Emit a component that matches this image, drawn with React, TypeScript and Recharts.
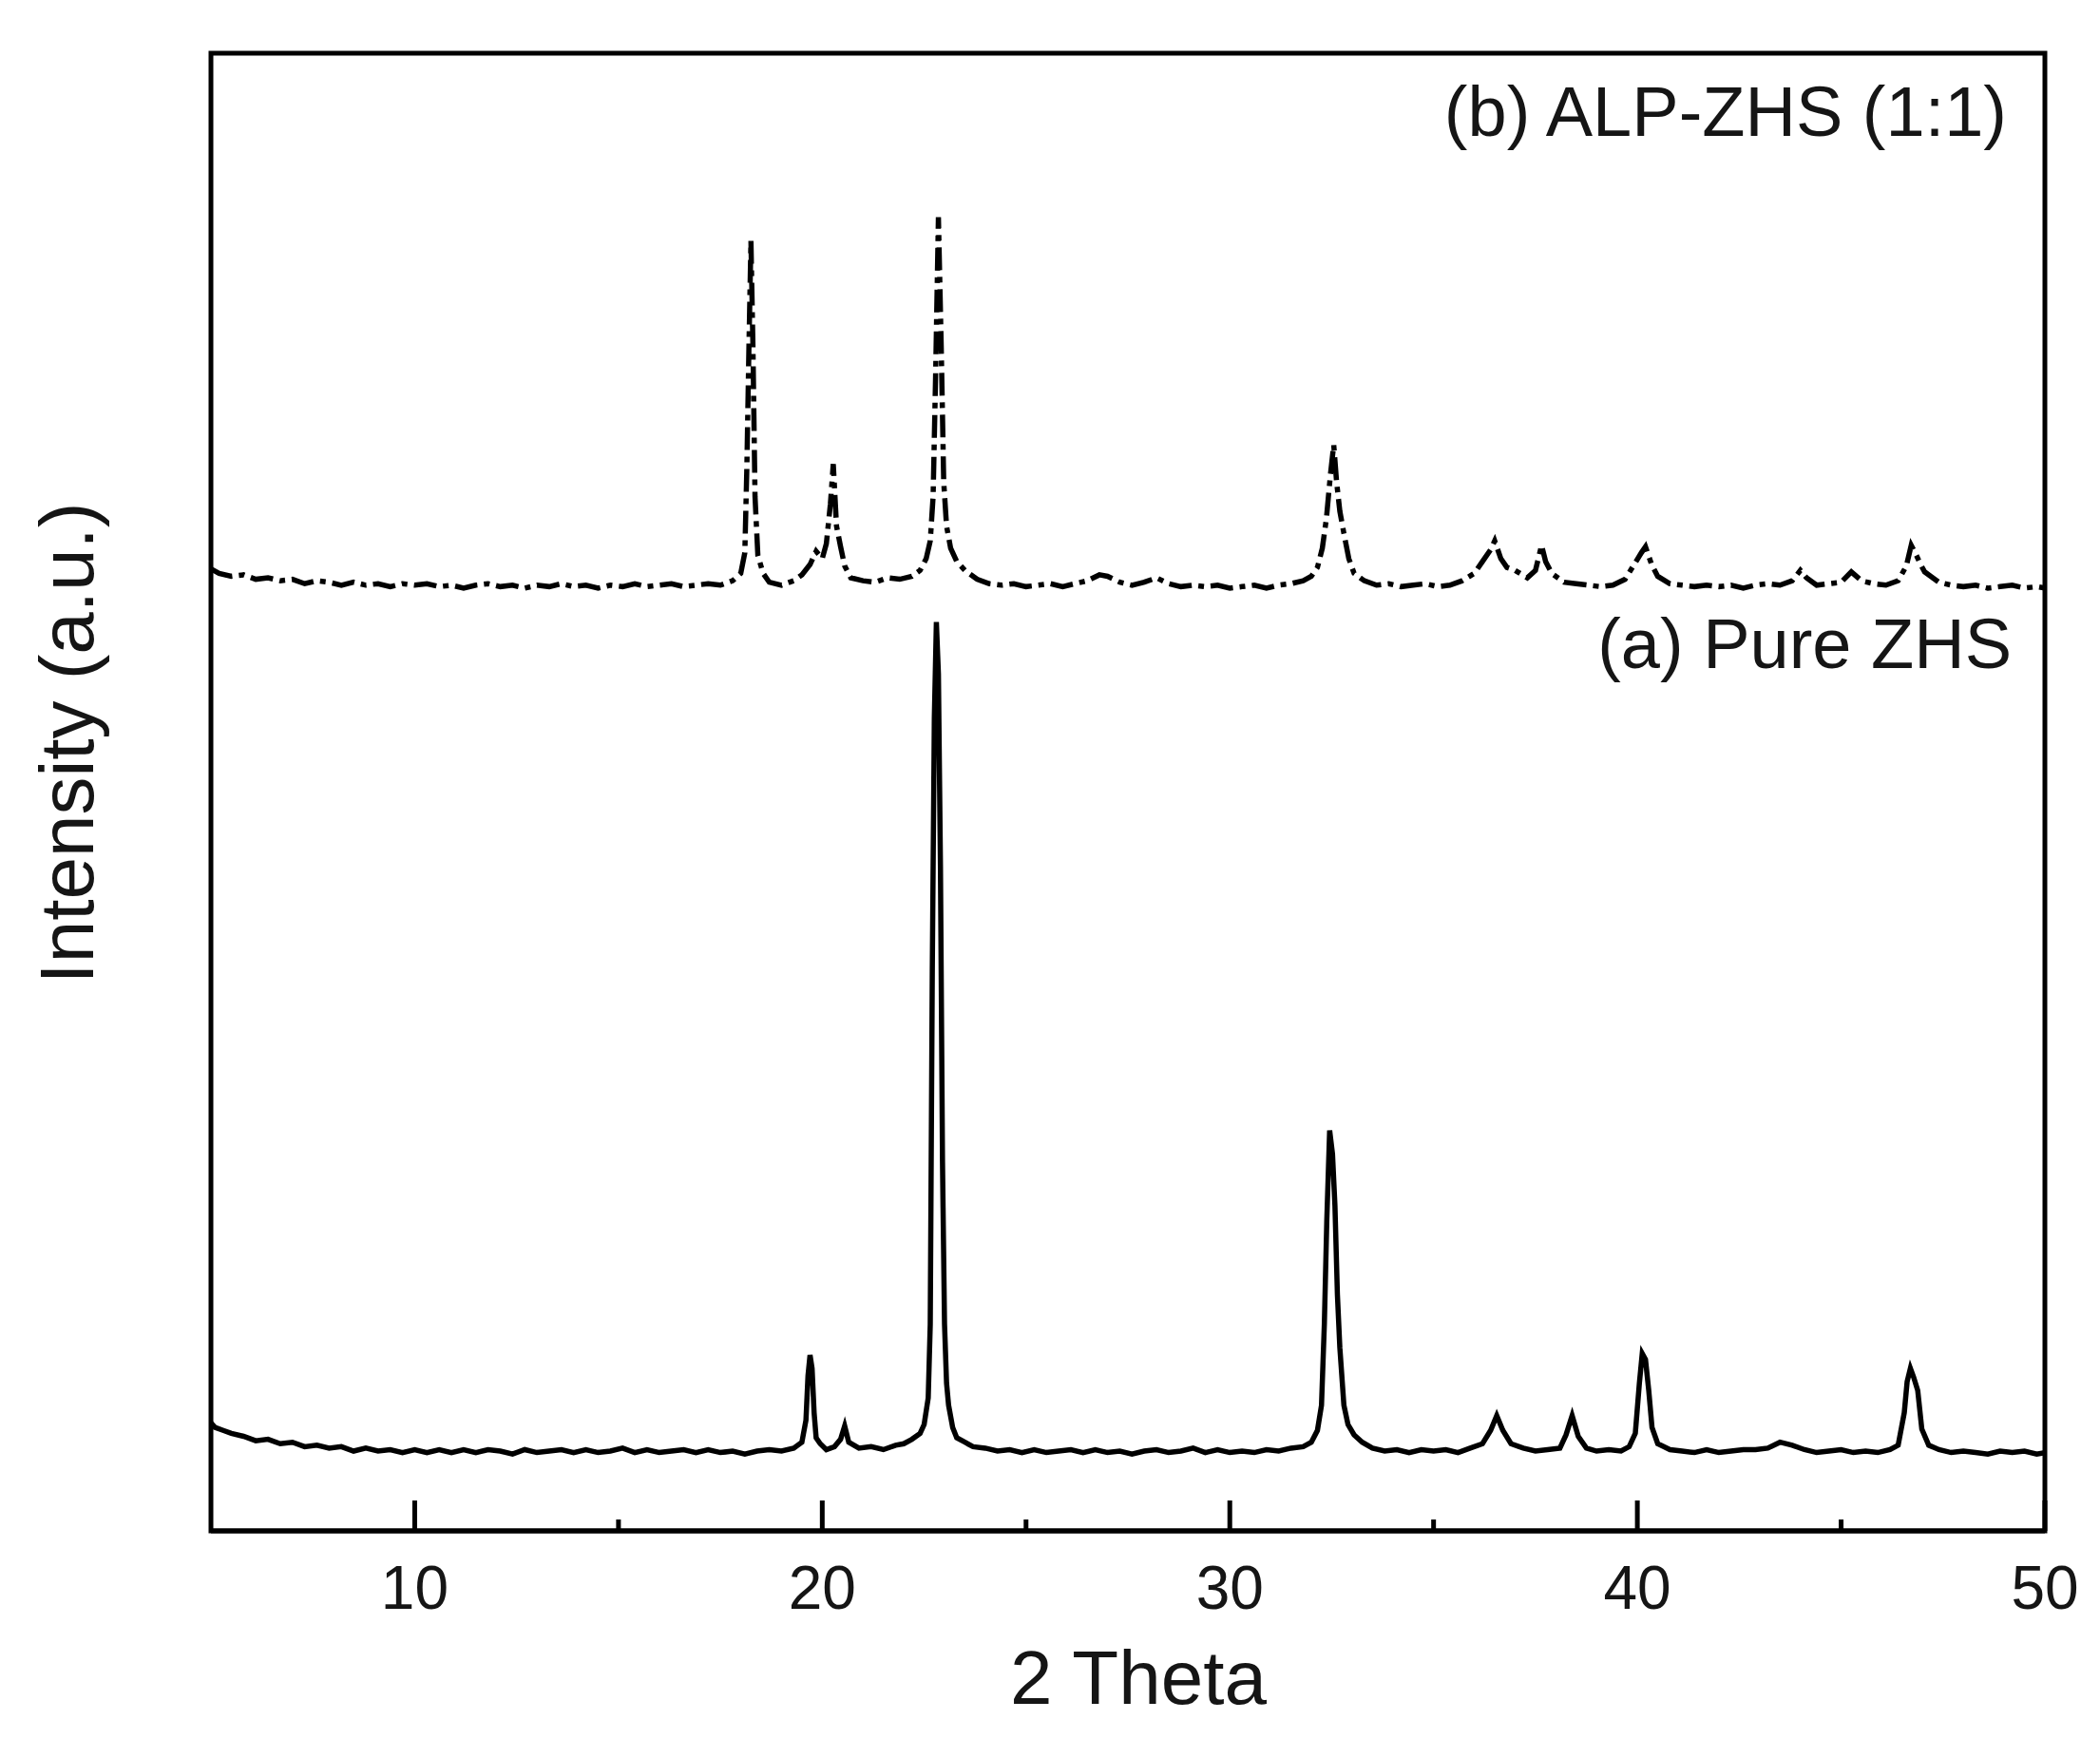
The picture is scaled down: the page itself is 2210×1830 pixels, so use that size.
import { LineChart, Line, XAxis, YAxis, ReferenceArea } from 'recharts';

// 2 theta (deg), intensity on a 0-100 arbitrary scale
const pureZhs: [number, number][] = [
  [5.0, 7.3], [5.1, 7.0], [5.3, 6.8], [5.5, 6.6], [5.8, 6.4], [6.1, 6.1], [6.4, 6.2], [6.7, 5.9],
  [7.0, 6.0], [7.3, 5.7], [7.6, 5.8], [7.9, 5.6], [8.2, 5.7], [8.5, 5.4], [8.8, 5.6], [9.1, 5.4],
  [9.4, 5.5], [9.7, 5.3], [10.0, 5.5], [10.3, 5.3], [10.6, 5.5], [10.9, 5.3], [11.2, 5.5], [11.5, 5.3],
  [11.8, 5.5], [12.1, 5.4], [12.4, 5.2], [12.7, 5.5], [13.0, 5.3], [13.3, 5.4], [13.6, 5.5], [13.9, 5.3],
  [14.2, 5.5], [14.5, 5.3], [14.8, 5.4], [15.1, 5.6], [15.4, 5.3], [15.7, 5.5], [16.0, 5.3], [16.3, 5.4],
  [16.6, 5.5], [16.9, 5.3], [17.2, 5.5], [17.5, 5.3], [17.8, 5.4], [18.1, 5.2], [18.4, 5.4], [18.7, 5.5],
  [19.0, 5.4], [19.3, 5.6], [19.5, 6.0], [19.6, 7.5], [19.65, 10.5], [19.7, 11.9], [19.75, 11.0], [19.8, 8.0],
  [19.85, 6.3], [19.95, 5.9], [20.1, 5.5], [20.3, 5.7], [20.45, 6.2], [20.55, 7.1], [20.65, 6.0], [20.9, 5.6],
  [21.2, 5.7], [21.5, 5.5], [21.8, 5.8], [22.0, 5.9], [22.2, 6.2], [22.4, 6.6], [22.5, 7.2], [22.6, 9.0],
  [22.65, 14], [22.7, 38], [22.75, 55], [22.8, 61.5], [22.85, 58], [22.9, 45], [22.95, 25], [23.0, 14],
  [23.05, 10], [23.1, 8.5], [23.2, 7.0], [23.3, 6.3], [23.5, 6.0], [23.7, 5.7], [24.0, 5.6], [24.3, 5.4],
  [24.6, 5.5], [24.9, 5.3], [25.2, 5.5], [25.5, 5.3], [25.8, 5.4], [26.1, 5.5], [26.4, 5.3], [26.7, 5.5],
  [27.0, 5.3], [27.3, 5.4], [27.6, 5.2], [27.9, 5.4], [28.2, 5.5], [28.5, 5.3], [28.8, 5.4], [29.1, 5.6],
  [29.4, 5.3], [29.7, 5.5], [30.0, 5.3], [30.3, 5.4], [30.6, 5.3], [30.9, 5.5], [31.2, 5.4], [31.5, 5.6],
  [31.8, 5.7], [32.0, 6.0], [32.15, 6.8], [32.25, 8.5], [32.32, 14], [32.38, 21], [32.45, 27.1], [32.52, 25.5],
  [32.58, 22], [32.64, 16], [32.7, 12.4], [32.8, 8.5], [32.9, 7.2], [33.05, 6.5], [33.25, 6.0], [33.5, 5.6],
  [33.8, 5.4], [34.1, 5.5], [34.4, 5.3], [34.7, 5.5], [35.0, 5.4], [35.3, 5.5], [35.6, 5.3], [35.9, 5.6],
  [36.2, 5.9], [36.4, 6.8], [36.55, 7.8], [36.7, 6.8], [36.9, 5.9], [37.2, 5.6], [37.5, 5.4], [37.8, 5.5],
  [38.1, 5.6], [38.25, 6.5], [38.4, 7.8], [38.55, 6.4], [38.75, 5.6], [39.0, 5.4], [39.3, 5.5], [39.6, 5.4],
  [39.8, 5.7], [39.95, 6.6], [40.05, 10], [40.12, 12.0], [40.2, 11.6], [40.28, 9.5], [40.36, 7.0], [40.5, 5.9],
  [40.8, 5.5], [41.1, 5.4], [41.4, 5.3], [41.7, 5.5], [42.0, 5.3], [42.3, 5.4], [42.6, 5.5], [42.9, 5.5],
  [43.2, 5.6], [43.5, 6.0], [43.8, 5.8], [44.1, 5.5], [44.4, 5.3], [44.7, 5.4], [45.0, 5.5], [45.3, 5.3],
  [45.6, 5.4], [45.9, 5.3], [46.2, 5.5], [46.4, 5.8], [46.55, 8.0], [46.62, 10.1], [46.7, 11.0], [46.78, 10.4],
  [46.88, 9.5], [46.98, 6.9], [47.15, 5.8], [47.4, 5.5], [47.7, 5.3], [48.0, 5.4], [48.3, 5.3], [48.6, 5.2],
  [48.9, 5.4], [49.2, 5.3], [49.5, 5.4], [49.8, 5.2], [50.0, 5.3],
];

const alpZhs: [number, number][] = [
  [5.0, 65.1], [5.2, 64.8], [5.5, 64.6], [5.8, 64.7], [6.1, 64.4], [6.4, 64.5], [6.7, 64.3], [7.0, 64.4],
  [7.3, 64.1], [7.6, 64.3], [7.9, 64.2], [8.2, 64.0], [8.5, 64.2], [8.8, 64.0], [9.1, 64.1], [9.4, 63.9],
  [9.7, 64.1], [10.0, 64.0], [10.3, 64.1], [10.6, 63.9], [10.9, 64.0], [11.2, 63.8], [11.5, 64.0], [11.8, 64.1],
  [12.1, 63.9], [12.4, 64.0], [12.7, 63.8], [13.0, 64.0], [13.3, 63.9], [13.6, 64.1], [13.9, 63.9], [14.2, 64.0],
  [14.5, 63.8], [14.8, 64.0], [15.1, 63.9], [15.4, 64.1], [15.7, 63.9], [16.0, 64.0], [16.3, 64.1], [16.6, 63.9],
  [16.9, 64.0], [17.2, 64.1], [17.5, 64.0], [17.8, 64.3], [18.0, 64.8], [18.1, 66.2], [18.15, 72], [18.2, 80],
  [18.25, 87.3], [18.3, 80], [18.35, 70], [18.42, 66.0], [18.55, 64.8], [18.7, 64.2], [19.0, 64.0], [19.3, 64.3],
  [19.5, 64.7], [19.7, 65.4], [19.85, 66.3], [20.0, 65.8], [20.1, 66.8], [20.2, 69.5], [20.27, 72.2], [20.35, 68.0],
  [20.45, 66.6], [20.55, 65.3], [20.7, 64.5], [21.0, 64.3], [21.3, 64.2], [21.6, 64.5], [21.9, 64.4], [22.2, 64.6],
  [22.4, 65.0], [22.55, 65.8], [22.65, 67.0], [22.72, 70], [22.78, 78], [22.85, 88.9], [22.92, 80], [22.98, 71],
  [23.05, 68], [23.15, 66.5], [23.3, 65.6], [23.5, 65.0], [23.8, 64.4], [24.1, 64.1], [24.4, 64.0], [24.7, 64.1],
  [25.0, 63.9], [25.3, 64.0], [25.6, 64.1], [25.9, 63.9], [26.2, 64.1], [26.5, 64.3], [26.8, 64.7], [27.0, 64.6],
  [27.3, 64.2], [27.6, 64.0], [27.9, 64.2], [28.2, 64.5], [28.5, 64.1], [28.8, 63.9], [29.1, 64.0], [29.4, 63.9],
  [29.7, 64.0], [30.0, 63.8], [30.3, 63.9], [30.6, 64.0], [30.9, 63.8], [31.2, 64.0], [31.5, 64.1], [31.8, 64.3],
  [32.0, 64.6], [32.15, 65.2], [32.27, 66.5], [32.37, 68.5], [32.47, 71.5], [32.55, 73.5], [32.62, 71.0], [32.7, 69.0],
  [32.8, 67.5], [32.92, 65.8], [33.05, 64.8], [33.3, 64.3], [33.6, 64.0], [33.9, 64.1], [34.2, 63.9], [34.5, 64.0],
  [34.8, 64.1], [35.1, 63.9], [35.4, 64.0], [35.7, 64.3], [36.0, 64.8], [36.2, 65.6], [36.4, 66.4], [36.5, 67.0],
  [36.65, 65.8], [36.8, 65.2], [37.0, 65.0], [37.3, 64.5], [37.5, 65.0], [37.65, 66.7], [37.75, 65.6], [37.9, 64.8],
  [38.2, 64.2], [38.5, 64.1], [38.8, 64.0], [39.1, 63.9], [39.4, 64.0], [39.7, 64.4], [39.9, 65.3], [40.1, 66.2],
  [40.2, 66.6], [40.35, 65.4], [40.5, 64.6], [40.8, 64.1], [41.1, 64.0], [41.4, 63.9], [41.7, 64.0], [42.0, 63.9],
  [42.3, 64.0], [42.6, 63.8], [42.9, 64.0], [43.2, 64.1], [43.5, 64.0], [43.8, 64.3], [44.0, 65.0], [44.15, 64.5],
  [44.4, 64.0], [44.7, 64.1], [45.0, 64.2], [45.25, 64.9], [45.5, 64.3], [45.8, 64.1], [46.1, 64.0], [46.4, 64.3],
  [46.6, 65.3], [46.72, 66.7], [46.85, 66.0], [46.95, 65.4], [47.05, 64.9], [47.2, 64.6], [47.4, 64.2], [47.7, 64.0],
  [48.0, 63.9], [48.3, 64.0], [48.6, 63.8], [48.9, 63.9], [49.2, 64.0], [49.5, 63.8], [49.8, 63.9], [50.0, 63.8],
];

const xTicks = [10, 15, 20, 25, 30, 35, 40, 45, 50];
const xDomain: [number, number] = [5, 50];
const yDomain: [number, number] = [0, 100];

const FONT = '"Liberation Sans", Arial, sans-serif';
const TEXT = '#151515';

const toRows = (pts: [number, number][]) => pts.map(([x, y]) => ({ x, y }));

// inward ticks, long on the labelled decades
const BottomTick = (props: any) => {
  const { x, y, payload } = props;
  const major = payload.value % 10 === 0;
  return (
    <g>
      <line x1={x} x2={x} y1={y} y2={y - (major ? 32 : 12)} stroke="#000" strokeWidth={5} />
      {major && (
        <text x={x} y={y + 82} textAnchor="middle" fontSize={64} fontFamily={FONT} fill={TEXT}>
          {payload.value}
        </text>
      )}
    </g>
  );
};

export default function App() {
  const dataA = toRows(pureZhs);
  const dataB = toRows(alpZhs);

  return (
    <div style={{ position: 'absolute', left: 0, top: 0, width: 2210, height: 1830, background: '#fff' }}>
      <LineChart width={2210} height={1830} margin={{ top: 56, right: 58, bottom: 0, left: 222 }}>
        <XAxis
          dataKey="x"
          type="number"
          domain={xDomain}
          ticks={xTicks}
          interval={0}
          allowDataOverflow
          height={219}
          tickSize={0}
          tickMargin={0}
          tickLine={false}
          tick={BottomTick}
          axisLine={{ stroke: '#000', strokeWidth: 5 }}
        />
        <YAxis type="number" domain={yDomain} allowDataOverflow hide />
        {/* plot frame */}
        <ReferenceArea
          x1={xDomain[0]}
          x2={xDomain[1]}
          y1={yDomain[0]}
          y2={yDomain[1]}
          fill="none"
          fillOpacity={0}
          stroke="#000"
          strokeWidth={5}
          strokeOpacity={1}
          ifOverflow="visible"
        />
        <Line
          data={dataA}
          dataKey="y"
          type="linear"
          stroke="#000"
          strokeWidth={5.5}
          strokeLinejoin="miter"
          dot={false}
          isAnimationActive={false}
        />
        <Line
          data={dataB}
          dataKey="y"
          type="linear"
          stroke="#000"
          strokeWidth={5.5}
          strokeDasharray="24 7 6 7"
          dot={false}
          isAnimationActive={false}
        />
        <text x={2112} y={143} textAnchor="end" fontSize={74} fontFamily={FONT} fill={TEXT}>
          (b) ALP-ZHS (1:1)
        </text>
        <text x={2117} y={703} textAnchor="end" fontSize={74} fontFamily={FONT} fill={TEXT}>
          (a) Pure ZHS
        </text>
        <text x={1198} y={1793} textAnchor="middle" fontSize={80} fontFamily={FONT} fill={TEXT}>
          2 Theta
        </text>
        <text
          transform="translate(98,782) rotate(-90)"
          textAnchor="middle"
          fontSize={80}
          fontFamily={FONT}
          fill={TEXT}
        >
          Intensity (a.u.)
        </text>
      </LineChart>
    </div>
  );
}
